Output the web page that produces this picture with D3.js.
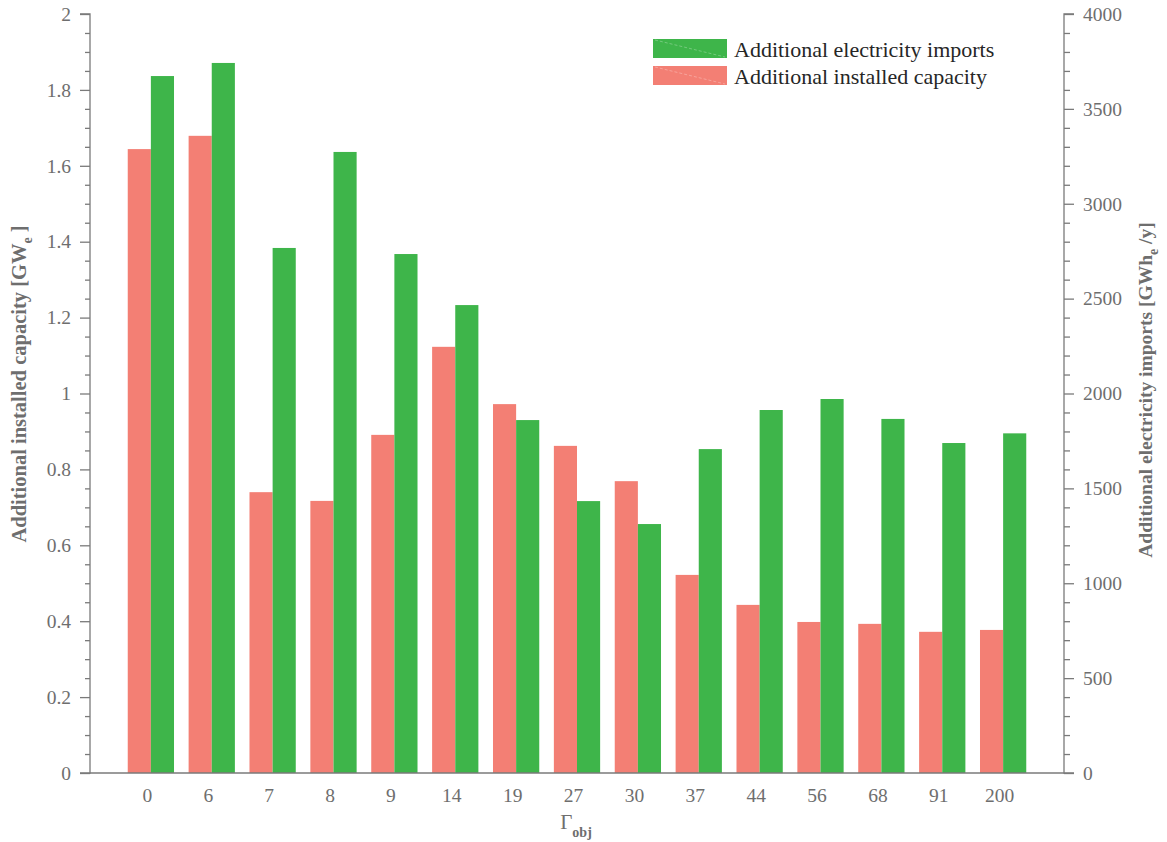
<!DOCTYPE html>
<html>
<head>
<meta charset="utf-8">
<script src="https://cdn.jsdelivr.net/npm/d3@7"></script>
<style>
  html, body { margin: 0; padding: 0; background: #fff; }
  svg { display: block; font-family: "Liberation Serif", "Times New Roman", serif; }
</style>
</head>
<body>
<svg id="chart" width="1167" height="842"></svg>
<script>
// Scenario labels (Γ_obj) along the x axis
const categories = ["0", "6", "7", "8", "9", "14", "19", "27", "30", "37", "44", "56", "68", "91", "200"];
// Additional installed capacity [GW_e] (left axis)
const capacity = [1.644, 1.679, 0.740, 0.717, 0.891, 1.123, 0.972, 0.862, 0.769, 0.522, 0.443, 0.398, 0.393, 0.372, 0.377];
// Additional electricity imports [GWh_e/y] (right axis)
const imports = [3673, 3742, 2767, 3273, 2735, 2466, 1860, 1433, 1312, 1707, 1913, 1971, 1866, 1739, 1790];
// Axis ticks
const leftTicks = [0, 0.2, 0.4, 0.6, 0.8, 1, 1.2, 1.4, 1.6, 1.8, 2];
const rightTicks = [0, 500, 1000, 1500, 2000, 2500, 3000, 3500, 4000];

const colCap = "#f37f74";
const colImp = "#3eb54a";
const axisCol = "#7a7a7a";
const textCol = "#6e6e6e";

const svg = d3.select("#chart");
const plot = { left: 90, right: 1064, top: 14, bottom: 773 };

const x = d3.scaleLinear().domain([0, categories.length + 1]).range([plot.left, plot.right]);
const yL = d3.scaleLinear().domain([0, 2]).range([plot.bottom, plot.top]);
const yR = d3.scaleLinear().domain([0, 4000]).range([plot.bottom, plot.top]);
const half = 0.38; // width of each bar, in category units

// Bars: capacity to the left of each category centre, imports to the right
const groups = svg.append("g").selectAll("g").data(categories).join("g");
groups.append("rect")
  .attr("x", (d, i) => x(i + 1 - half))
  .attr("width", (d, i) => x(i + 1) - x(i + 1 - half))
  .attr("y", (d, i) => yL(capacity[i]))
  .attr("height", (d, i) => yL(0) - yL(capacity[i]))
  .attr("fill", colCap);
groups.append("rect")
  .attr("x", (d, i) => x(i + 1))
  .attr("width", (d, i) => x(i + 1 + half) - x(i + 1))
  .attr("y", (d, i) => yR(imports[i]))
  .attr("height", (d, i) => yR(0) - yR(imports[i]))
  .attr("fill", colImp);

// Left axis: major and minor ticks
const minorL = d3.range(0, 2.0001, 0.05).filter(v => leftTicks.every(t => Math.abs(t - v) > 1e-6));
const gL = svg.append("g").attr("transform", `translate(${plot.left},0)`);
gL.call(d3.axisLeft(yL).tickValues(leftTicks).tickSize(10).tickPadding(9).tickFormat(d3.format("~g")));
const gLm = svg.append("g").attr("transform", `translate(${plot.left},0)`);
gLm.call(d3.axisLeft(yL).tickValues(minorL).tickSize(5).tickFormat(""));

// Right axis: major and minor ticks
const minorR = d3.range(0, 4001, 100).filter(v => !rightTicks.includes(v));
const gR = svg.append("g").attr("transform", `translate(${plot.right},0)`);
gR.call(d3.axisRight(yR).tickValues(rightTicks).tickSize(10).tickPadding(9).tickFormat(d3.format("d")));
const gRm = svg.append("g").attr("transform", `translate(${plot.right},0)`);
gRm.call(d3.axisRight(yR).tickValues(minorR).tickSize(6).tickFormat(""));

// Bottom axis: baseline and category labels
const gB = svg.append("g").attr("transform", `translate(0,${plot.bottom})`);
gB.call(d3.axisBottom(x).tickValues(d3.range(1, categories.length + 1)).tickSize(0).tickPadding(15)
  .tickFormat((d) => categories[d - 1]));

[gL, gLm, gR, gRm, gB].forEach(g => {
  g.select(".domain").attr("stroke", axisCol).attr("stroke-width", 1.3);
  g.selectAll(".tick line").attr("stroke", axisCol).attr("stroke-width", 1.3);
  g.selectAll("text").attr("fill", textCol).attr("font-size", 19.5)
    .attr("font-family", "Liberation Serif, Times New Roman, serif");
});
gB.selectAll(".tick text").attr("dx", -4);
gL.select(".domain").attr("d", `M-10,${plot.bottom}H0V${plot.top}H-10`);
gR.select(".domain").attr("d", `M10,${plot.bottom}H0V${plot.top}H10`);
gLm.select(".domain").remove();
gRm.select(".domain").remove();
gB.select(".domain").attr("d", `M${plot.left},0H${plot.right}`);

// Axis titles
const tL = svg.append("text")
  .attr("transform", "translate(26,384) rotate(-90)")
  .attr("text-anchor", "middle")
  .attr("font-size", 20.5).attr("font-weight", "bold").attr("fill", textCol);
tL.append("tspan").text("Additional installed capacity [GW");
tL.append("tspan").attr("font-size", 14).attr("dy", 6).text("e");
tL.append("tspan").attr("dy", -6).text(" ]");

const tR = svg.append("text")
  .attr("transform", "translate(1152,390) rotate(-90)")
  .attr("text-anchor", "middle")
  .attr("font-size", 19.5).attr("font-weight", "bold").attr("fill", textCol);
tR.append("tspan").text("Additional electricity imports [GWh");
tR.append("tspan").attr("font-size", 14).attr("dy", 6).text("e");
tR.append("tspan").attr("dy", -6).text(" /y]");

const tX = svg.append("text")
  .attr("x", 576).attr("y", 829)
  .attr("text-anchor", "middle").attr("fill", textCol);
tX.append("tspan").attr("font-size", 21).text("Γ");
tX.append("tspan").attr("font-size", 14).attr("font-weight", "bold").attr("dy", 8).text("obj");

// Legend
const legendItems = [
  { label: "Additional electricity imports", color: colImp },
  { label: "Additional installed capacity", color: colCap }
];
const lg = svg.append("g").attr("transform", "translate(653,39)");
const li = lg.selectAll("g").data(legendItems).join("g")
  .attr("transform", (d, i) => `translate(0,${i * 27})`);
li.append("rect").attr("width", 74).attr("height", 19).attr("fill", d => d.color);
li.append("line").attr("x1", 2).attr("y1", 1).attr("x2", 72).attr("y2", 18)
  .attr("stroke", "#fff").attr("stroke-opacity", 0.35).attr("stroke-width", 0.8)
  .attr("stroke-dasharray", "3,2");
li.append("text").attr("x", 81).attr("y", 18)
  .attr("font-size", 22).attr("fill", "#262626").text(d => d.label);
</script>
</body>
</html>
